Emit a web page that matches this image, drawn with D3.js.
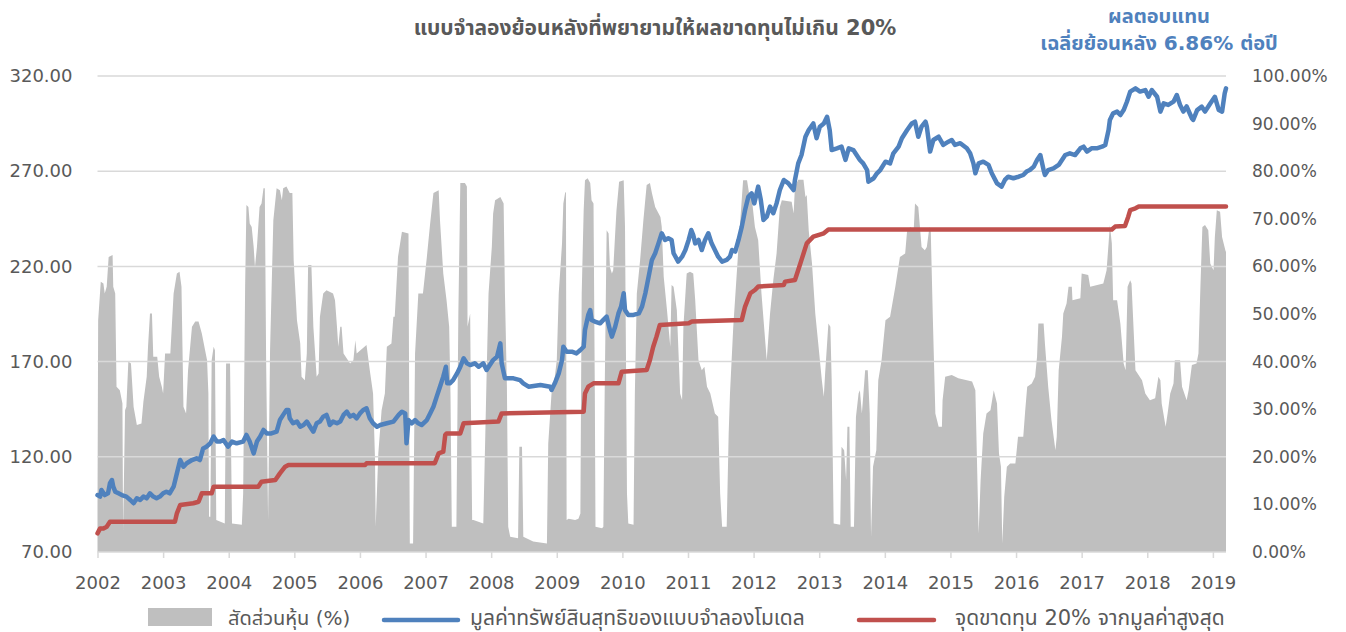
<!DOCTYPE html>
<html><head><meta charset="utf-8">
<script src="https://cdn.jsdelivr.net/npm/d3@7/dist/d3.min.js"></script>
<style>
html,body{margin:0;padding:0;background:#fff;}
svg text{font-family:"DejaVu Sans","Noto Sans Thai","Noto Sans",sans-serif;fill:#595959;}
</style></head>
<body><svg id="c" width="1346" height="632"></svg>
<script>
// ---------------- DATA ----------------
const title = "แบบจำลองย้อนหลังที่พยายามให้ผลขาดทุนไม่เกิน 20%";
const noteLines = ["ผลตอบแทน", "เฉลี่ยย้อนหลัง 6.86% ต่อปี"];
const legendLabels = ["สัดส่วนหุ้น (%)", "มูลค่าทรัพย์สินสุทธิของแบบจำลองโมเดล", "จุดขาดทุน 20% จากมูลค่าสูงสุด"];
const yearTicks = [2002,2003,2004,2005,2006,2007,2008,2009,2010,2011,2012,2013,2014,2015,2016,2017,2018,2019];
const leftTicks = [70,120,170,220,270,320];
const rightTicks = [0,10,20,30,40,50,60,70,80,90,100];
const xDomain = [2002, 2019.2];
const leftDomain = [70, 320];
const rightDomain = [0, 100];

// stock ratio (%), [fractional year, percent]
const stockRatio = [
[2002.00,9.5],[2002.01,48.7],[2002.05,56.8],[2002.09,56.4],[2002.11,54.3],[2002.14,55.7],[2002.17,62.0],[2002.23,62.4],[2002.24,55.7],[2002.27,54.3],[2002.29,34.7],[2002.34,34.0],[2002.38,31.2],[2002.39,4.6],[2002.42,29.8],[2002.44,30.5],[2002.47,40.0],[2002.51,39.6],[2002.55,30.5],[2002.60,26.7],[2002.67,27.0],[2002.70,31.6],[2002.75,36.8],[2002.77,43.1],[2002.80,50.1],[2002.83,50.1],[2002.85,41.0],[2002.91,41.0],[2002.94,36.8],[2002.98,34.7],[2003.00,33.3],[2003.03,41.7],[2003.11,41.7],[2003.16,54.3],[2003.21,58.5],[2003.25,58.9],[2003.28,55.7],[2003.31,30.5],[2003.35,29.1],[2003.38,38.2],[2003.44,47.3],[2003.49,48.4],[2003.54,48.4],[2003.59,45.9],[2003.64,42.4],[2003.67,40.3],[2003.69,33.3],[2003.70,7.4],[2003.72,7.4],[2003.74,40.3],[2003.77,43.1],[2003.79,42.4],[2003.81,6.7],[2003.94,6.0],[2003.96,39.6],[2004.02,39.6],[2004.05,6.0],[2004.20,5.7],[2004.22,12.3],[2004.25,55.7],[2004.27,72.9],[2004.30,72.5],[2004.32,69.0],[2004.35,68.3],[2004.38,64.1],[2004.40,59.9],[2004.43,64.1],[2004.47,72.5],[2004.50,73.2],[2004.53,76.4],[2004.55,76.4],[2004.57,40.3],[2004.60,6.7],[2004.63,42.4],[2004.68,69.7],[2004.73,76.4],[2004.78,76.0],[2004.81,73.9],[2004.83,76.4],[2004.88,76.8],[2004.93,75.4],[2004.97,75.4],[2004.99,61.3],[2005.04,48.7],[2005.09,43.8],[2005.11,36.8],[2005.16,36.1],[2005.19,41.7],[2005.21,60.3],[2005.26,60.3],[2005.29,47.3],[2005.34,36.8],[2005.37,37.5],[2005.39,49.4],[2005.44,54.3],[2005.49,55.0],[2005.59,54.3],[2005.62,52.9],[2005.65,47.3],[2005.67,43.1],[2005.70,47.3],[2005.72,47.3],[2005.75,41.7],[2005.85,39.6],[2005.90,40.3],[2005.93,44.5],[2005.95,41.7],[2006.10,43.5],[2006.15,38.2],[2006.20,33.3],[2006.23,19.3],[2006.24,5.3],[2006.28,20.7],[2006.33,29.8],[2006.38,33.3],[2006.41,43.1],[2006.48,43.8],[2006.51,49.4],[2006.53,49.4],[2006.58,62.0],[2006.64,67.3],[2006.74,66.9],[2006.75,33.3],[2006.76,1.8],[2006.81,1.8],[2006.84,41.7],[2006.89,54.3],[2006.96,54.3],[2007.02,62.0],[2007.07,69.0],[2007.12,75.4],[2007.20,76.0],[2007.22,69.7],[2007.27,58.5],[2007.32,52.9],[2007.36,47.3],[2007.38,33.3],[2007.40,5.3],[2007.47,5.3],[2007.50,50.1],[2007.53,77.5],[2007.60,77.5],[2007.63,76.8],[2007.64,47.3],[2007.68,50.1],[2007.69,33.3],[2007.71,6.7],
[2007.73,6.7],[2007.88,6.0],[2007.91,24.2],[2007.93,36.8],[2007.96,54.3],[2008.01,64.1],[2008.03,71.1],[2008.06,73.9],[2008.14,74.6],[2008.19,73.2],[2008.21,54.3],[2008.24,34.7],[2008.26,5.3],[2008.29,3.2],[2008.41,2.9],[2008.43,22.1],[2008.47,22.1],[2008.49,3.2],[2008.64,2.2],[2008.85,1.8],
[2008.87,22.8],[2008.92,33.3],[2008.97,36.8],[2009.00,40.3],[2009.03,54.3],[2009.08,64.8],[2009.10,73.2],[2009.13,75.7],[2009.14,75.4],[2009.15,6.7],[2009.18,7.0],[2009.28,6.7],[2009.33,7.0],[2009.36,8.1],[2009.37,33.3],[2009.38,54.3],[2009.41,71.8],[2009.43,78.1],[2009.47,78.5],[2009.51,77.5],[2009.53,73.9],[2009.56,73.2],[2009.58,33.3],[2009.59,5.3],[2009.69,5.0],[2009.71,5.3],[2009.73,33.3],[2009.76,67.6],[2009.79,66.9],[2009.81,59.9],[2009.84,58.5],[2009.86,59.2],[2009.89,66.9],[2009.91,71.8],[2009.95,77.8],[2010.02,78.1],[2010.04,68.3],[2010.07,12.3],[2010.09,6.0],[2010.17,5.7],[2010.19,33.3],[2010.22,54.3],[2010.27,61.3],[2010.32,69.7],[2010.37,77.1],[2010.42,77.5],[2010.45,75.4],[2010.50,72.5],[2010.58,70.4],[2010.60,68.3],[2010.63,57.8],[2010.68,50.8],[2010.73,43.1],[2010.75,56.1],[2010.78,55.7],[2010.83,50.8],[2010.88,33.3],[2010.91,31.9],[2010.93,47.3],[2010.98,58.5],[2011.03,58.9],[2011.08,58.5],[2011.11,52.9],[2011.16,40.3],[2011.21,38.2],[2011.25,38.9],[2011.29,34.7],[2011.34,33.3],[2011.41,29.1],[2011.46,28.4],[2011.49,12.3],[2011.52,5.3],[2011.59,5.3],[2011.62,24.9],[2011.64,33.3],[2011.69,47.3],[2011.74,57.8],[2011.79,68.3],[2011.84,78.1],[2011.90,78.1],[2011.93,75.4],[2011.97,74.6],[2012.02,68.3],[2012.07,65.5],[2012.12,54.3],[2012.18,43.8],[2012.20,40.3],[2012.25,50.0],
[2012.30,57.1],[2012.35,62.7],[2012.40,72.5],[2012.43,73.9],[2012.58,73.6],[2012.61,71.1],[2012.63,76.8],[2012.68,78.2],[2012.76,78.2],[2012.79,74.6],[2012.81,75.0],[2012.84,67.6],[2012.89,60.6],[2012.94,50.1],[2012.99,43.1],[2013.04,36.1],[2013.07,32.6],[2013.09,37.5],[2013.14,48.0],[2013.17,47.3],[2013.19,36.1],[2013.22,6.0],[2013.32,5.7],[2013.34,22.1],[2013.38,21.4],[2013.41,15.1],[2013.43,26.3],[2013.46,26.3],[2013.48,5.3],[2013.53,5.3],[2013.56,28.4],[2013.60,33.3],[2013.62,34.0],[2013.65,29.1],[2013.67,32.6],[2013.70,38.2],[2013.74,38.2],[2013.77,29.1],[2013.79,3.2],[2013.82,17.9],[2013.87,21.4],[2013.90,36.1],[2013.95,40.3],[2014.01,48.7],[2014.08,49.4],[2014.16,55.7],[2014.23,62.0],[2014.31,62.7],[2014.34,67.6],[2014.39,68.3],[2014.44,67.6],[2014.46,73.2],[2014.51,72.5],[2014.56,64.1],[2014.61,63.4],[2014.64,64.1],[2014.68,68.3],[2014.70,67.6],[2014.73,50.1],[2014.77,29.1],[2014.82,26.3],[2014.87,26.3],[2014.88,31.9],[2014.92,36.8],[2015.02,37.2],[2015.12,36.5],[2015.25,36.1],[2015.33,35.8],[2015.38,34.0],[2015.43,3.9],[2015.46,15.1],[2015.50,24.9],[2015.55,29.1],[2015.61,29.8],[2015.66,34.0],
[2015.71,31.2],[2015.74,20.7],[2015.77,17.9],[2015.79,1.8],[2015.82,11.6],[2015.86,17.9],[2015.91,18.6],[2015.99,18.6],[2016.03,24.2],[2016.11,24.2],[2016.14,29.8],[2016.17,34.7],[2016.24,35.4],[2016.29,36.8],[2016.32,41.0],[2016.34,48.0],[2016.42,48.0],[2016.44,43.8],[2016.49,34.7],[2016.54,27.7],[2016.60,21.4],[2016.62,24.2],[2016.65,38.2],[2016.70,45.2],[2016.72,50.1],[2016.77,52.2],[2016.80,55.7],[2016.85,55.7],[2016.86,52.9],[2016.98,53.3],[2017.00,58.5],[2017.10,58.2],[2017.13,55.7],[2017.33,56.4],[2017.38,59.2],[2017.41,64.8],[2017.43,68.7],[2017.46,64.8],[2017.48,52.9],[2017.54,52.9],[2017.59,48.0],[2017.64,39.6],[2017.67,38.2],[2017.70,55.7],[2017.74,57.1],[2017.76,56.4],[2017.82,38.2],[2017.92,36.1],[2017.97,33.3],[2018.04,31.9],[2018.12,32.3],[2018.17,36.8],[2018.20,36.1],[2018.22,31.2],[2018.28,26.3],[2018.31,29.1],[2018.35,33.3],[2018.40,35.4],[2018.42,40.3],[2018.50,40.3],[2018.53,34.7],[2018.60,31.9],[2018.63,34.0],[2018.68,39.3],[2018.75,39.6],[2018.78,41.7],[2018.81,55.7],[2018.84,68.3],[2018.88,68.7],[2018.93,67.6],[2018.96,60.6],[2019.01,59.2],[2019.03,66.2],[2019.06,71.8],[2019.11,71.5],[2019.14,66.2],[2019.19,63.4],[2019.20,63.0]
];

// net asset value of the model, [fractional year, value]
const navSeries = [
[2002.00,99.9],[2002.04,99.1],[2002.06,102.6],[2002.11,99.9],[2002.16,100.8],[2002.19,106.1],[2002.22,107.8],[2002.24,104.3],[2002.27,101.7],[2002.32,100.8],[2002.37,99.9],[2002.44,99.1],[2002.50,97.3],[2002.55,95.6],[2002.60,98.2],[2002.65,97.3],[2002.70,99.1],[2002.75,98.2],[2002.80,100.8],[2002.85,99.1],[2002.90,98.2],[2002.95,99.1],[2003.00,100.8],[2003.05,101.7],[2003.10,100.8],[2003.16,104.3],[2003.21,111.3],[2003.26,118.3],[2003.31,114.8],[2003.36,116.6],[2003.44,118.3],[2003.51,119.2],[2003.56,118.3],[2003.61,124.4],[2003.66,125.3],[2003.72,127.1],[2003.77,130.6],[2003.82,128.0],[2003.87,128.0],[2003.92,128.8],[2003.99,125.3],[2004.05,128.0],[2004.12,127.1],[2004.22,128.0],[2004.27,131.5],[2004.32,128.0],[2004.38,121.8],[2004.43,128.0],[2004.48,130.6],[2004.53,134.1],[2004.58,132.3],[2004.65,132.3],[2004.73,133.2],[2004.78,139.3],[2004.83,142.0],[2004.88,144.6],[2004.91,144.6],[2004.93,140.2],[2004.98,137.6],[2005.04,138.5],[2005.09,135.8],[2005.14,136.7],[2005.19,138.5],[2005.24,135.8],[2005.29,133.2],[2005.34,137.6],[2005.39,138.5],[2005.44,141.1],[2005.49,142.0],[2005.52,139.3],[2005.54,136.7],[2005.59,138.5],[2005.65,137.6],[2005.70,138.5],[2005.75,142.0],[2005.80,143.7],[2005.85,141.1],[2005.90,142.0],[2005.95,140.2],[2006.00,142.8],[2006.05,144.6],[2006.10,145.5],[2006.15,140.2],[2006.20,137.6],[2006.26,135.8],[2006.31,136.7],[2006.41,137.6],[2006.51,138.5],[2006.59,142.0],[2006.64,143.7],[2006.69,142.8],[2006.71,127.1],[2006.74,139.3],[2006.79,137.6],[2006.84,139.3],[2006.89,137.6],[2006.94,136.7],[2007.02,139.3],[2007.07,142.8],[2007.12,146.3],[2007.17,151.6],[2007.22,156.8],[2007.27,162.1],[2007.31,167.3],
[2007.33,158.6],[2007.37,158.6],[2007.42,160.3],[2007.48,163.8],[2007.53,167.3],[2007.58,171.7],[2007.63,169.1],[2007.68,168.2],[2007.75,169.1],[2007.81,167.3],[2007.88,169.1],[2007.93,165.6],[2007.98,168.2],[2008.03,170.8],[2008.09,172.6],[2008.14,179.6],[2008.16,169.1],[2008.21,161.2],[2008.34,161.2],[2008.44,160.3],[2008.49,158.6],[2008.57,156.8],[2008.75,157.7],[2008.90,156.8],
[2008.92,155.1],[2008.97,158.6],[2009.03,163.8],[2009.08,170.8],[2009.10,177.8],[2009.15,175.2],[2009.23,175.2],[2009.30,174.3],[2009.36,176.1],[2009.41,177.8],[2009.43,186.6],[2009.48,194.5],[2009.51,197.1],[2009.53,191.9],[2009.58,191.0],[2009.66,190.1],[2009.71,191.9],[2009.76,193.6],[2009.81,186.6],[2009.84,183.1],[2009.89,188.3],[2009.94,195.3],[2009.98,198.9],[2010.02,205.9],[2010.04,197.1],[2010.09,194.5],[2010.17,194.5],[2010.25,195.3],[2010.30,198.9],[2010.35,205.9],[2010.40,214.6],[2010.45,223.4],[2010.50,226.9],[2010.55,232.1],[2010.60,237.4],[2010.65,233.9],[2010.70,234.8],[2010.75,233.9],[2010.78,226.9],[2010.85,222.5],[2010.91,225.1],[2010.96,228.6],[2011.01,233.9],[2011.05,239.1],[2011.08,236.5],[2011.11,232.1],[2011.16,233.9],[2011.21,228.6],[2011.26,233.9],[2011.31,237.4],[2011.36,232.1],[2011.41,228.6],[2011.46,225.1],[2011.52,222.5],[2011.59,223.4],[2011.64,225.1],[2011.67,228.6],[2011.72,227.8],[2011.77,233.9],[2011.82,240.9],[2011.87,249.6],[2011.92,256.6],[2011.97,258.4],[2012.01,253.1],[2012.07,261.9],[2012.11,254.9],[2012.15,244.4],[2012.20,246.1],[2012.25,251.4],
[2012.30,247.9],[2012.35,253.1],[2012.40,260.1],[2012.46,265.4],[2012.53,263.6],[2012.61,260.1],[2012.63,265.4],[2012.68,274.1],[2012.73,278.5],[2012.79,288.1],[2012.84,291.6],[2012.91,295.1],[2012.96,287.3],[2013.01,293.4],[2013.07,295.1],[2013.12,298.6],[2013.16,291.6],[2013.19,281.1],[2013.27,282.0],[2013.34,282.9],[2013.40,275.9],[2013.45,282.0],[2013.52,281.1],[2013.57,278.5],[2013.62,275.9],[2013.67,274.1],[2013.73,270.6],[2013.75,264.5],[2013.83,266.3],[2013.88,268.9],[2013.93,270.6],[2014.01,275.0],[2014.08,274.1],[2014.13,279.4],[2014.21,282.9],[2014.26,287.3],[2014.34,291.6],[2014.41,295.1],[2014.46,296.0],[2014.51,288.1],[2014.56,293.4],[2014.62,296.0],[2014.64,293.4],[2014.69,280.3],[2014.74,286.4],[2014.82,288.1],[2014.89,283.8],[2014.97,285.5],[2015.02,286.4],[2015.07,283.8],[2015.15,284.7],[2015.25,282.0],[2015.30,279.4],[2015.35,274.1],[2015.38,268.9],[2015.43,274.1],[2015.50,275.0],[2015.58,273.3],[2015.63,268.9],[2015.71,263.6],
[2015.78,261.9],[2015.83,265.4],[2015.88,267.1],[2015.96,266.3],[2016.04,267.1],[2016.11,268.0],[2016.16,269.8],[2016.21,270.6],[2016.27,272.4],[2016.32,275.9],[2016.37,278.5],[2016.42,270.6],[2016.44,268.0],[2016.49,270.6],[2016.57,271.5],[2016.65,273.3],[2016.70,275.9],[2016.75,278.5],[2016.82,279.4],[2016.90,278.5],[2016.98,282.0],[2017.03,282.9],[2017.08,280.3],[2017.15,282.0],[2017.23,282.0],[2017.31,282.9],[2017.36,283.8],[2017.41,291.6],[2017.43,296.9],[2017.48,300.4],[2017.54,301.3],[2017.59,299.5],[2017.64,302.1],[2017.69,306.5],[2017.74,311.8],[2017.82,313.5],[2017.89,311.8],[2017.97,312.6],[2018.02,309.1],[2018.07,312.6],[2018.15,309.1],[2018.20,301.3],[2018.25,305.6],[2018.32,304.8],[2018.40,306.5],[2018.45,310.0],[2018.50,304.8],[2018.55,301.3],[2018.60,304.0],[2018.68,297.8],[2018.70,296.9],[2018.76,302.1],[2018.83,303.9],[2018.88,301.3],[2018.96,305.6],[2019.03,309.1],[2019.09,302.1],[2019.14,301.3],[2019.18,310.9],[2019.20,313.5]
];

// stop level: 20% below running peak, [fractional year, value]
const stopLevel = [
[2002.00,79.8],[2002.04,82.4],[2002.09,82.4],[2002.14,83.3],[2002.19,85.9],[2003.18,85.9],[2003.21,90.3],[2003.26,94.7],[2003.46,95.6],[2003.54,96.4],[2003.59,100.8],[2003.74,100.8],[2003.77,104.3],[2004.45,104.3],[2004.50,106.9],[2004.71,107.8],[2004.78,111.3],[2004.86,114.8],[2004.91,115.7],[2006.08,115.7],[2006.10,116.6],[2007.14,116.6],[2007.20,121.8],[2007.27,122.7],[2007.30,131.5],[2007.32,132.3],[2007.53,132.3],[2007.58,137.6],[2008.11,138.5],[2008.16,142.8],[2009.41,143.7],[2009.43,153.3],[2009.48,156.8],[2009.56,158.6],[2009.94,158.6],[2009.99,164.7],[2010.37,165.6],[2010.42,170.8],[2010.47,177.8],[2010.52,183.1],[2010.57,189.2],[2011.01,190.1],[2011.06,191.0],[2011.82,191.9],[2011.87,198.9],[2011.95,205.9],[2012.02,207.6],[2012.07,209.4],[2012.46,210.2],[2012.48,212.0],[2012.63,212.9],[2012.68,218.1],[2012.73,223.4],[2012.81,232.1],[2012.91,235.6],[2013.07,237.4],[2013.14,239.4],[2017.46,239.4],[2017.51,240.9],[2017.66,241.2],[2017.71,246.1],[2017.74,249.6],[2017.82,250.5],[2017.87,251.4],[2019.20,251.4]
];

// ---------------- CHART ----------------
const svg = d3.select("#c");
const P = {l:97.5, r:1226, t:76, b:552};
const x = d3.scaleLinear().domain(xDomain).range([P.l, P.r]);
const yL = d3.scaleLinear().domain(leftDomain).range([P.b, P.t]);
const yR = d3.scaleLinear().domain(rightDomain).range([P.b, P.t]);
const C = {gray:"#bfbfbf", blue:"#4f81bd", red:"#c0504d", grid:"#d9d9d9", text:"#595959"};

// area
svg.append("path").datum(stockRatio)
  .attr("d", d3.area().x(d=>x(d[0])).y0(yR(0)).y1(d=>yR(d[1])))
  .attr("fill", C.gray);

// gridlines
svg.append("g").selectAll("line").data(leftTicks).join("line")
  .attr("x1", P.l).attr("x2", P.r)
  .attr("y1", d=>yL(d)).attr("y2", d=>yL(d))
  .attr("stroke", C.grid).attr("stroke-width", 1.5);

// x axis ticks
const xAxis = d3.axisBottom(x).tickValues(yearTicks).tickFormat(d3.format("d")).tickSize(6).tickPadding(18);
const gx = svg.append("g").attr("transform", `translate(0,${P.b})`).call(xAxis);
gx.select(".domain").remove();
gx.selectAll(".tick line").attr("stroke", C.grid).attr("stroke-width", 1.5);
gx.selectAll(".tick text").attr("font-size", 18).attr("fill", C.text).style("font-family", "DejaVu Sans");

// left axis labels
const gl = svg.append("g").attr("transform", `translate(${P.l-25},0)`)
  .call(d3.axisLeft(yL).tickValues(leftTicks).tickFormat(d3.format(".2f")).tickSize(0).tickPadding(0));
gl.select(".domain").remove();
gl.selectAll(".tick text").attr("font-size", 18).attr("fill", C.text).style("font-family", "DejaVu Sans");

// right axis labels
const gr = svg.append("g").attr("transform", `translate(${P.r+26},0)`)
  .call(d3.axisRight(yR).tickValues(rightTicks).tickFormat(d=>d3.format(".2f")(d)+"%").tickSize(0).tickPadding(0));
gr.select(".domain").remove();
gr.selectAll(".tick text").attr("font-size", 17).attr("fill", C.text).style("font-family", "DejaVu Sans");

// lines
svg.append("path").datum(stopLevel)
  .attr("d", d3.line().x(d=>x(d[0])).y(d=>yL(d[1])))
  .attr("fill","none").attr("stroke", C.red).attr("stroke-width", 4.5)
  .attr("stroke-linejoin","round").attr("stroke-linecap","round");
svg.append("path").datum(navSeries)
  .attr("d", d3.line().x(d=>x(d[0])).y(d=>yL(d[1])))
  .attr("fill","none").attr("stroke", C.blue).attr("stroke-width", 4.5)
  .attr("stroke-linejoin","round").attr("stroke-linecap","round");

// title
svg.append("text").attr("x", 655).attr("y", 35).attr("text-anchor","middle")
  .attr("font-size", 21).attr("font-weight","bold").text(title);

// note
svg.selectAll(".note").data(noteLines).join("text").attr("class","note")
  .attr("x", 1159).attr("y", (d,i)=>23+i*27).attr("text-anchor","middle")
  .attr("font-size", 20).attr("font-weight","bold").style("fill", C.blue).text(d=>d);

// legend
const lg = svg.append("g");
lg.append("rect").attr("x",148).attr("y",608).attr("width",64).attr("height",18).attr("fill",C.gray);
lg.append("text").attr("x",228).attr("y",625).attr("font-size",20).text(legendLabels[0]);
lg.append("line").attr("x1",384).attr("x2",458).attr("y1",620).attr("y2",620)
  .attr("stroke",C.blue).attr("stroke-width",4.5).attr("stroke-linecap","round");
lg.append("text").attr("x",470).attr("y",625).attr("font-size",21).text(legendLabels[1]);
lg.append("line").attr("x1",859).attr("x2",934).attr("y1",620).attr("y2",620)
  .attr("stroke",C.red).attr("stroke-width",4.5).attr("stroke-linecap","round");
lg.append("text").attr("x",955).attr("y",625).attr("font-size",21).text(legendLabels[2]);
</script></body></html>
